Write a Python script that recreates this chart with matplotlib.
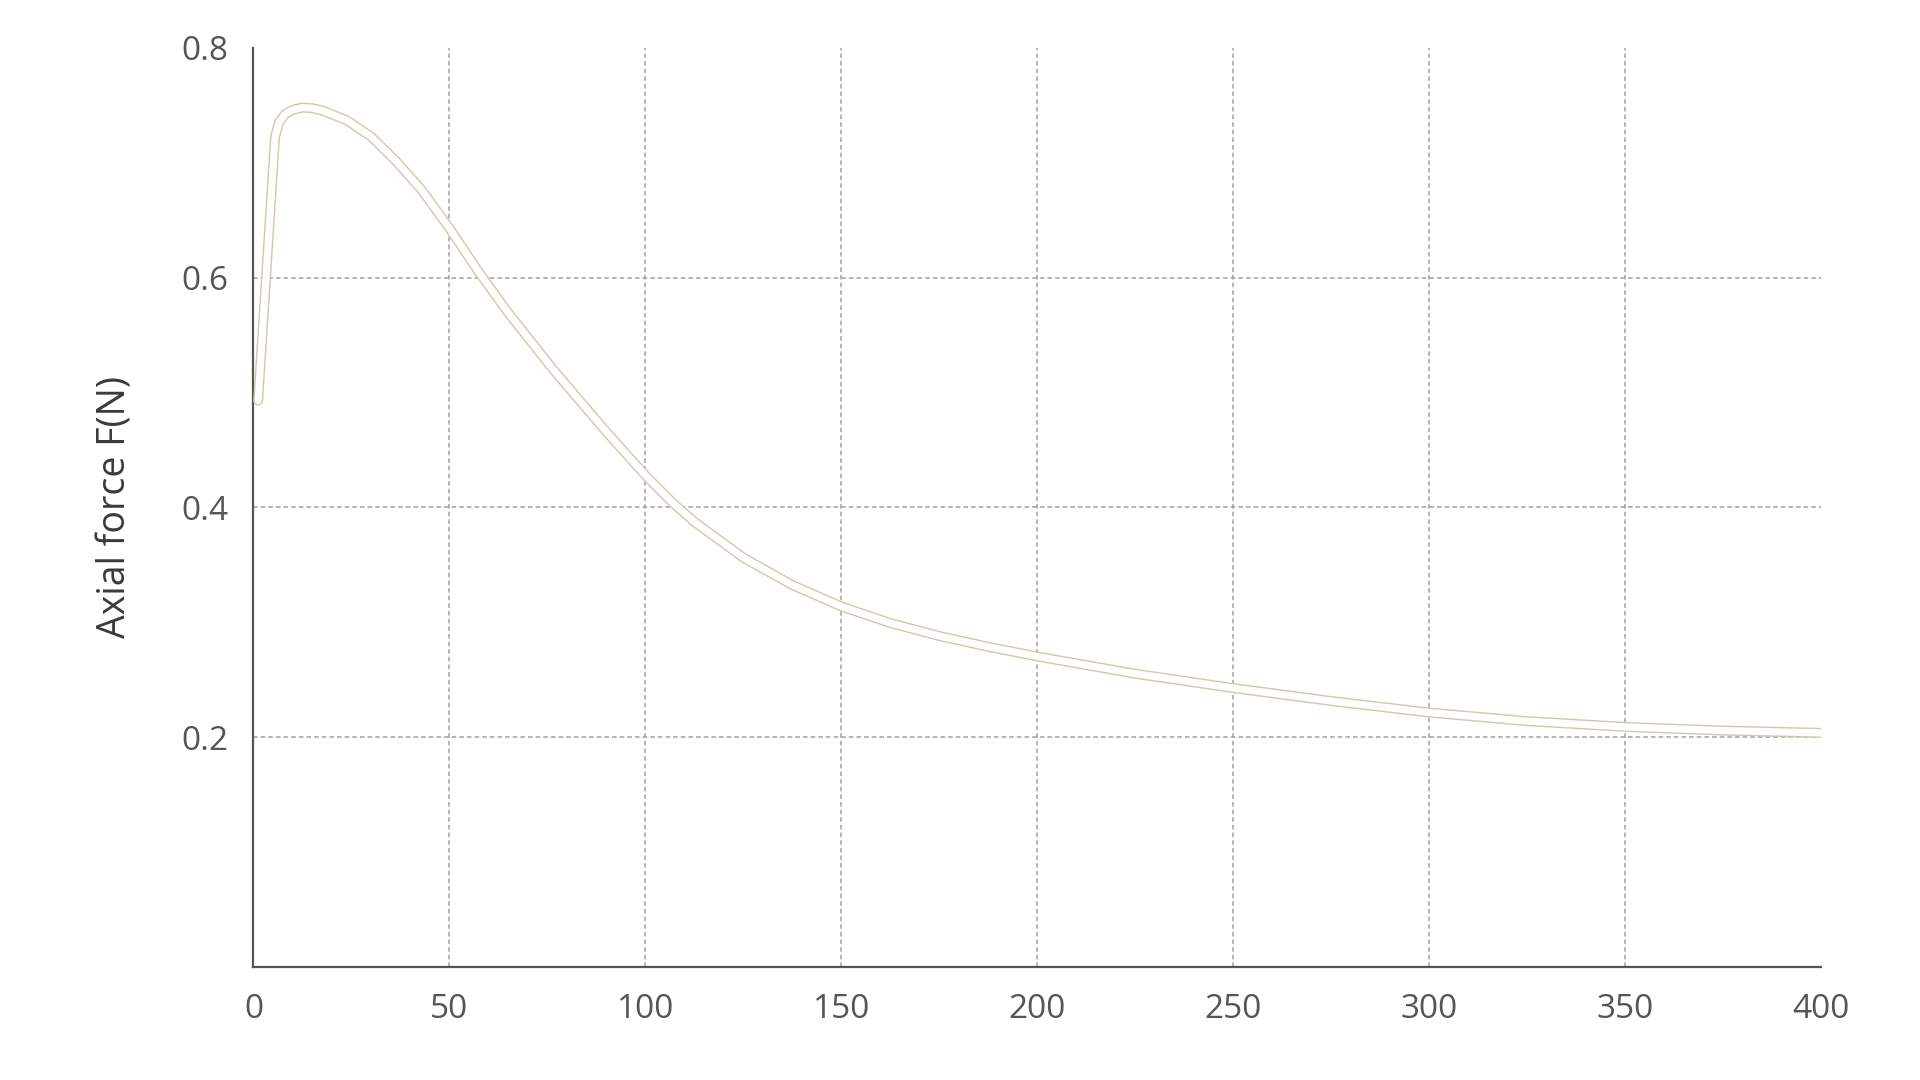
import numpy as np
import matplotlib
matplotlib.use('agg')
import matplotlib.pyplot as plt
import matplotlib.patheffects as pe

plt.rcParams['font.family'] = ['Open Sans', 'DejaVu Sans']

# data
x_pos = [1.2, 3.4, 5.5, 6.5, 8, 10, 12.3, 15, 18, 24, 30, 36.5, 43, 50,
         57.5, 65, 76.5, 90, 100, 107, 112.5, 125, 137.5, 150, 162.5, 175,
         187.5, 200, 225, 250, 275, 300, 325, 350, 375, 400]
axial_force = [0.493, 0.61, 0.722, 0.735, 0.742, 0.746, 0.748, 0.7475,
               0.745, 0.7366, 0.7228, 0.701, 0.676, 0.643, 0.6048, 0.5695,
               0.520, 0.466, 0.428, 0.404, 0.3875, 0.3563, 0.3325, 0.3138,
               0.2994, 0.2881, 0.2787, 0.2703, 0.2553, 0.2428, 0.2315,
               0.2215, 0.214, 0.209, 0.2058, 0.2038]

x_ticks = [0, 50, 100, 150, 200, 250, 300, 350, 400]
y_ticks = [0.2, 0.4, 0.6, 0.8]
y_label = 'Axial force F(N)'


def plot(fname='out.png'):

    fig = plt.figure(figsize=(19.2, 10.8), dpi=100)
    ax = fig.add_axes([0.132, 0.1046, 0.8164, 0.8511])

    # grid (no line at the frame edges)
    for xv in x_ticks[1:-1]:
        ax.axvline(xv, color='#a0a0a0', lw=1.1, linestyle=(0, (3, 2)), zorder=1)
    for yv in y_ticks[:-1]:
        ax.axhline(yv, color='#a0a0a0', lw=1.1, linestyle=(0, (3, 2)), zorder=1)

    # hollow line: beige outline, white core
    ax.plot(x_pos, axial_force, color='white', lw=5.2, zorder=3,
            solid_capstyle='round', solid_joinstyle='round',
            path_effects=[pe.Stroke(linewidth=7.2, foreground='#d3c6ac'),
                          pe.Normal()])

    # tweak
    ax.set_xlim(0, 400)
    ax.set_ylim(0, 0.8)
    ax.set_xticks(x_ticks)
    ax.set_yticks(y_ticks)
    ax.set_yticklabels([str(v) for v in y_ticks])
    ax.tick_params(axis='both', length=0, labelsize=24, colors='#555555')
    ax.tick_params(axis='x', pad=19)
    ax.tick_params(axis='y', pad=18)

    for side in ['top', 'right']:
        ax.spines[side].set_visible(False)
    for side in ['left', 'bottom']:
        ax.spines[side].set_color('#555555')
        ax.spines[side].set_linewidth(1.6)

    ax.set_ylabel(y_label, fontsize=27, color='#3a3a3a', va='center')
    ax.yaxis.set_label_coords(-0.0877, 0.5)

    plt.savefig(fname, dpi=100, facecolor='white')


def main():
    plot()


if __name__ == "__main__":
    main()
